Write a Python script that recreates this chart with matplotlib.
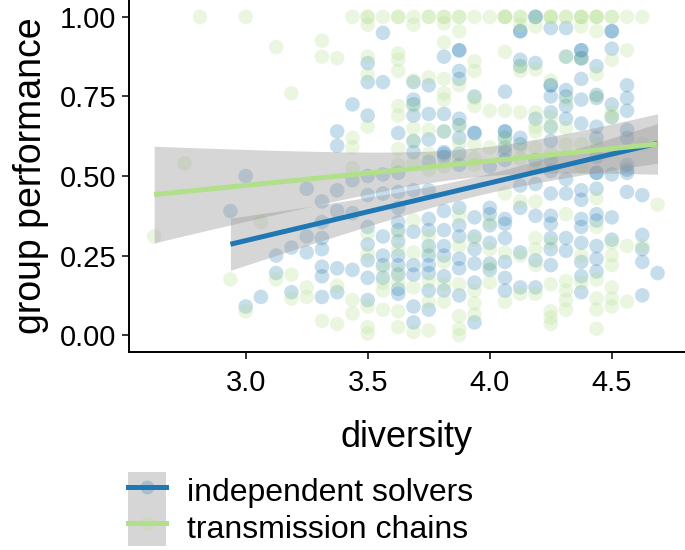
import numpy as np
import matplotlib
matplotlib.use("Agg")
import matplotlib.pyplot as plt
from matplotlib.colors import to_rgba
from matplotlib.lines import Line2D
from matplotlib.patches import Patch

plt.rcParams['font.family'] = ['Liberation Sans', 'DejaVu Sans']

# === Data: diversity columns and group performance per column ===
diversity = [2.625, 2.75, 2.8125, 2.9375, 3.0, 3.0625, 3.125, 3.1875, 3.25,
             3.3125, 3.375, 3.4375, 3.5, 3.5625, 3.625, 3.6875, 3.75, 3.8125,
             3.875, 3.9375, 4.0, 4.0625, 4.125, 4.1875, 4.25, 4.3125, 4.375,
             4.4375, 4.5, 4.5625, 4.625, 4.6875]

# repeated values = overlapping (darker) points
solvers_perf = [
    [], [], [],
    [0.39],
    [0.50, 0.09],
    [0.12],
    [0.25, 0.195],
    [0.275, 0.135],
    [0.46, 0.31, 0.26],
    [0.42, 0.355, 0.305, 0.27, 0.215, 0.185, 0.12],
    [0.64, 0.595, 0.455, 0.39, 0.21, 0.135],
    [0.725, 0.487, 0.383, 0.205],
    [0.855, 0.795, 0.69, 0.5, 0.44, 0.34, 0.285, 0.235, 0.18, 0.11],
    [0.95, 0.795, 0.505, 0.445, 0.31, 0.25, 0.22, 0.18],
    [0.635, 0.51, 0.45, 0.4, 0.355, 0.33, 0.295, 0.25, 0.22, 0.19, 0.145, 0.13],
    [0.795, 0.74, 0.725, 0.69, 0.61, 0.575, 0.455, 0.325, 0.22, 0.19, 0.09, 0.04],
    [0.785, 0.695, 0.615, 0.545, 0.455, 0.365, 0.33, 0.28, 0.25, 0.22, 0.195, 0.14, 0.08],
    [0.875, 0.695, 0.64, 0.575, 0.57, 0.56, 0.39, 0.33, 0.28, 0.25, 0.185, 0.14],
    [0.895, 0.895, 0.83, 0.805, 0.68, 0.66, 0.62, 0.57, 0.535, 0.4, 0.345, 0.31, 0.24, 0.21, 0.125],
    [0.75, 0.635, 0.635, 0.37, 0.31, 0.27, 0.225, 0.165, 0.04],
    [0.53, 0.4, 0.38, 0.345, 0.29, 0.225, 0.205],
    [0.765, 0.64, 0.64, 0.62, 0.59, 0.575, 0.55, 0.365, 0.35, 0.305, 0.23, 0.18, 0.14],
    [0.955, 0.955, 0.865, 0.845, 0.62, 0.6, 0.47, 0.4, 0.26, 0.15],
    [1.0, 1.0, 0.855, 0.68, 0.55, 0.475, 0.375, 0.235, 0.15],
    [0.965, 0.785, 0.785, 0.75, 0.7, 0.655, 0.61, 0.55, 0.515, 0.445, 0.375, 0.35, 0.305, 0.27, 0.22],
    [0.965, 0.875, 0.77, 0.75, 0.72, 0.68, 0.49, 0.445, 0.305, 0.265],
    [0.895, 0.895, 0.87, 0.87, 0.805, 0.74, 0.665, 0.455, 0.425, 0.365, 0.34, 0.29, 0.23, 0.185, 0.135],
    [0.845, 0.755, 0.745, 0.655, 0.62, 0.56, 0.51, 0.51, 0.46, 0.38, 0.36, 0.28, 0.24, 0.2],
    [0.955, 0.955, 0.9, 0.725, 0.685, 0.505, 0.37, 0.3],
    [0.785, 0.745, 0.705, 0.645, 0.62, 0.535, 0.52, 0.51, 0.45],
    [0.44, 0.315, 0.27, 0.23, 0.125],
    [0.195],
]

chains_perf = [
    [0.31],
    [0.54],
    [1.0],
    [0.175],
    [1.0, 0.075],
    [0.355],
    [0.905, 0.175],
    [0.76, 0.19, 0.115],
    [0.15, 0.12],
    [0.925, 0.875, 0.045],
    [0.87, 0.155, 0.035],
    [1.0, 0.62, 0.59, 0.525, 0.11, 0.068],
    [1.0, 1.0, 0.975, 0.875, 0.82, 0.655, 0.32, 0.255, 0.09, 0.025, 0.005],
    [1.0, 0.21, 0.165, 0.14, 0.08],
    [1.0, 1.0, 0.885, 0.865, 0.83, 0.72, 0.69, 0.585, 0.535, 0.32, 0.27, 0.2, 0.165, 0.075, 0.025],
    [1.0, 0.975, 0.8, 0.72, 0.65, 0.61, 0.54, 0.36, 0.26, 0.15, 0.01],
    [1.0, 1.0, 0.81, 0.645, 0.57, 0.52, 0.31, 0.265, 0.17, 0.105, 0.015],
    [1.0, 1.0, 0.98, 0.92, 0.805, 0.76, 0.74, 0.64, 0.53, 0.23, 0.16, 0.105],
    [1.0, 1.0, 0.955, 0.785, 0.655, 0.6, 0.555, 0.375, 0.28, 0.16, 0.06, 0.02, 0.0],
    [1.0, 0.86, 0.83, 0.745, 0.72, 0.6, 0.555, 0.535, 0.3, 0.14, 0.1, 0.065],
    [1.0, 0.705, 0.59, 0.355, 0.27, 0.215, 0.165],
    [1.0, 1.0, 1.0, 0.89, 0.705, 0.62, 0.6, 0.445, 0.26, 0.105],
    [1.0, 1.0, 0.975, 0.845, 0.83, 0.7, 0.59, 0.555, 0.42, 0.25, 0.13],
    [1.0, 0.97, 0.835, 0.7, 0.655, 0.64, 0.59, 0.525, 0.42, 0.305, 0.27, 0.22, 0.13],
    [1.0, 1.0, 1.0, 0.8, 0.685, 0.65, 0.57, 0.29, 0.16, 0.075, 0.055, 0.035],
    [1.0, 1.0, 0.875, 0.74, 0.65, 0.6, 0.38, 0.17, 0.14, 0.11, 0.08],
    [1.0, 1.0, 1.0, 0.97, 0.87, 0.6, 0.53, 0.25, 0.165],
    [1.0, 1.0, 1.0, 0.955, 0.82, 0.75, 0.6, 0.43, 0.34, 0.175, 0.115, 0.08, 0.02],
    [1.0, 1.0, 0.865, 0.7, 0.685, 0.29, 0.25, 0.22, 0.15, 0.115, 0.09],
    [1.0, 0.895, 0.28, 0.105],
    [1.0, 0.6, 0.28],
    [0.41],
]

groups = ['independent solvers', 'transmission chains']
colors = ['#1f78b4', '#b2df8a']
x_ticks = [3.0, 3.5, 4.0, 4.5]
y_ticks = [0.0, 0.25, 0.5, 0.75, 1.0]


def flatten(cols, perf):
    xs = [x for x, ys in zip(cols, perf) for _ in ys]
    ys = [y for col in perf for y in col]
    return np.array(xs), np.array(ys)


def lm_band(x, y, n=80):
    """linear fit with 95% confidence band (like geom_smooth(method='lm'))"""
    b, a = np.polyfit(x, y, 1)
    xg = np.linspace(x.min(), x.max(), n)
    fit = a + b * xg
    resid = y - (a + b * x)
    s = np.sqrt(np.sum(resid ** 2) / (len(x) - 2))
    se = s * np.sqrt(1 / len(x) + (xg - x.mean()) ** 2 / np.sum((x - x.mean()) ** 2))
    return xg, fit, fit - 1.97 * se, fit + 1.97 * se


fig = plt.figure(figsize=(6.85, 5.5), dpi=100)
ax = fig.add_axes([129 / 685, 198 / 550, 556 / 685, 352 / 550])

data = [flatten(diversity, solvers_perf), flatten(diversity, chains_perf)]

# points
for (x, y), c in zip(data, colors):
    ax.scatter(x, y, s=110, color=c, alpha=0.25, edgecolors='none', zorder=1)

# confidence bands then lines
fits = [lm_band(x, y) for x, y in data]
for xg, fit, lo, hi in fits:
    ax.fill_between(xg, lo, hi, color='#999999', alpha=0.4, linewidth=0, zorder=2)
for (xg, fit, lo, hi), c in zip(fits, colors):
    ax.plot(xg, fit, color=c, linewidth=3.6, zorder=3, solid_capstyle='butt')

ax.set_xlim(2.522, 4.80)
ax.set_ylim(-0.053, 1.053)
ax.set_xticks(x_ticks)
ax.set_xticklabels([f'{t:.1f}' for t in x_ticks])
ax.set_yticks(y_ticks)
ax.set_yticklabels([f'{t:.2f}' for t in y_ticks])
ax.tick_params(labelsize=21, length=5, width=1.1, color='black')
ax.tick_params(axis='x', pad=7)
ax.tick_params(axis='y', pad=4)
for side in ['top', 'right']:
    ax.spines[side].set_visible(False)
for side in ['left', 'bottom']:
    ax.spines[side].set_linewidth(1.4)
ax.set_xlabel('diversity', fontsize=26, labelpad=17)
ax.set_ylabel('group performance', fontsize=27, labelpad=8)

# legend: gray key background, coloured line with a faint point
handles = []
for c in colors:
    key_bg = Patch(facecolor='#999999', alpha=0.4, edgecolor='none')
    key_line = Line2D([], [], color=c, linewidth=3.6, marker='o', markersize=10,
                      markerfacecolor=to_rgba(c, 0.25), markeredgecolor='none')
    handles.append((key_bg, key_line))
fig.legend(handles, groups, loc='upper left', bbox_to_anchor=(128 / 685, 78 / 550),
           frameon=False, fontsize=23, handlelength=1.2, handleheight=1.4,
           labelspacing=0, handletextpad=0.65, borderpad=0, borderaxespad=0)

fig.savefig('out.png', dpi=100)
